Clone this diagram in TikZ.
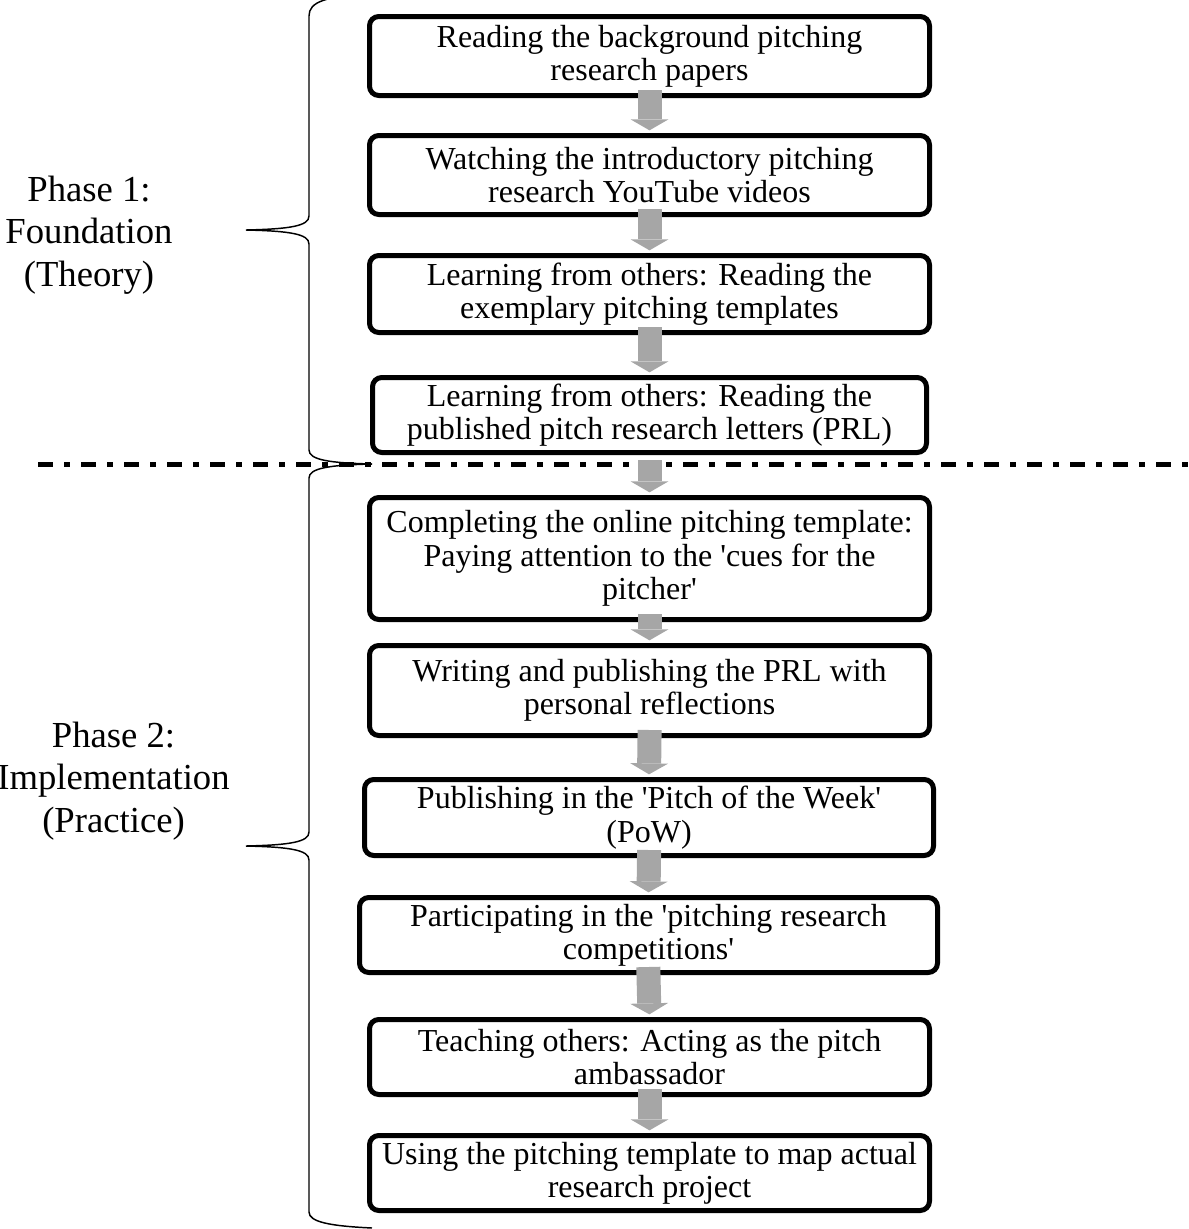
\documentclass[tikz,border=0pt]{standalone}
\usepackage{fontspec}
\setmainfont{Liberation Serif}[Ligatures=TeXOff]
\usepackage{tikz}
\usetikzlibrary{arrows.meta}
\definecolor{arrowgray}{RGB}{166,166,166}

\begin{document}
\begin{tikzpicture}[x=0.75pt,y=-0.75pt,stage/.style n args={2}{draw,line width=3.75pt,rounded corners=7pt,align=center,inner sep=0pt,minimum width=#1*0.75pt,minimum height=#2*0.75pt,font=\fontsize{24pt}{25pt}\selectfont},phase/.style={align=center,font=\fontsize{27.5pt}{32pt}\selectfont},flow/.style={draw=arrowgray,line width=18pt,-{Triangle[width=28.5pt,length=8.25pt,line width=0pt]}},pbrace/.style={draw,line width=1.1pt},sepline/.style={draw,line width=3.75pt,dash pattern=on 11.25pt off 8.25pt on 4.5pt off 8.25pt}]
\useasboundingbox (0,0) rectangle (1189,1229);
% phase 1
\node[stage={560}{79}] (b1) at (649.5,56) {Reading the background pitching\\research papers};
\node[stage={560}{79}] (b2) at (649.5,175) {Watching the introductory pitching\\research YouTube videos};
\node[stage={560}{77}] (b3) at (649.5,294) {Learning from others: Reading the\\exemplary pitching templates};
\node[stage={554}{75}] (b4) at (649.5,415) {Learning from others: Reading the\\published pitch research letters (PRL)};
% phase 2
\node[stage={560}{122}] (b5) at (649.5,558.5) {Completing the online pitching template:\\Paying attention to the 'cues for the\\pitcher'};
\node[stage={560}{90}] (b6) at (649.5,690.5) {Writing and publishing the PRL with\\personal reflections};
\node[stage={569}{76}] (b7) at (649,817.5) {Publishing in the 'Pitch of the Week'\\(PoW)};
\node[stage={578}{75}] (b8) at (648.5,935) {Participating in the 'pitching research\\competitions'};
\node[stage={560}{75}] (b9) at (649.5,1057) {Teaching others: Acting as the pitch\\ambassador};
\node[stage={560}{75}] (b10) at (649.5,1173) {Using the pitching template to map actual\\research project};
\node[phase] (p1) at (89,235) {Phase 1:\\Foundation\\(Theory)};
\node[phase] (p2) at (113.5,781) {Phase 2:\\Implementation\\(Practice)};
\draw[sepline] (38,464) -- (1189,464);
% braces
\draw[pbrace] (372,-6) .. controls (325,-4) and (309,2) .. (309,16) -- (309,216)
   .. controls (309,226) and (290,229) .. (246,230) .. controls (290,231) and (309,234) .. (309,244)
   -- (309,450) .. controls (309,460) and (330,463) .. (372,464);
\draw[pbrace] (372,464) .. controls (330,465) and (309,468) .. (309,478) -- (309,832)
   .. controls (309,842) and (290,845) .. (246,846) .. controls (290,847) and (309,850) .. (309,860)
   -- (309,1212) .. controls (309,1222) and (330,1226) .. (372,1228);
% arrows
\foreach \a/\b in %
{b1/b2,b2/b3,b3/b4,b5/b6,b6/b7,b7/b8,b8/b9,b9/b10} {
   \draw[flow,shorten <=-6pt,shorten >=2pt] (\a.south) -- (\b.north);
}
\draw[flow,shorten <=4pt,shorten >=2pt] (b4.south) -- (b5.north);
\end{tikzpicture}
\end{document}
